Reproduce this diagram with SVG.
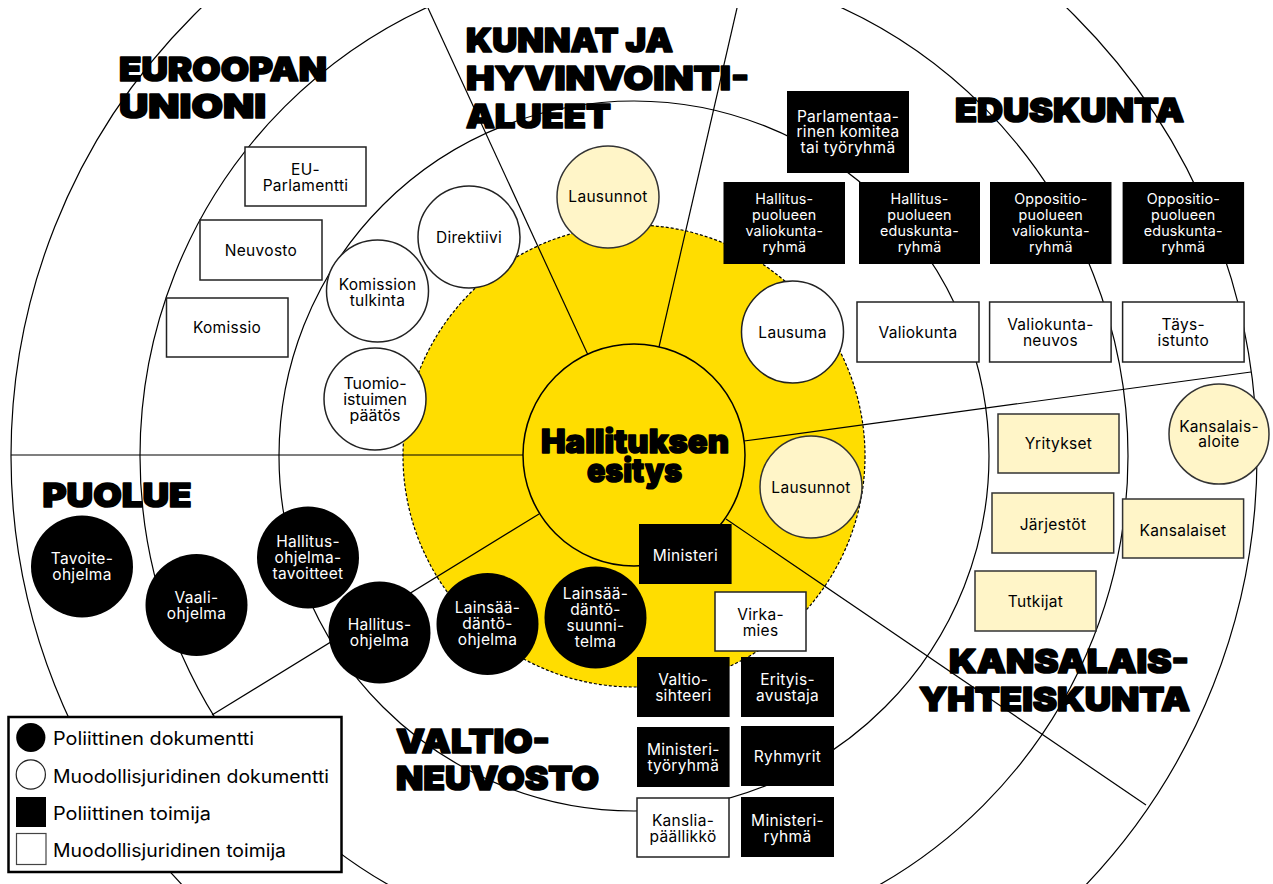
<svg xmlns="http://www.w3.org/2000/svg" width="1273" height="884" viewBox="0 0 1273 884">
<defs>
<clipPath id="clip"><rect x="0" y="8" width="1273" height="876"/></clipPath>
<style>
.ring{fill:none;stroke:#000;stroke-width:1.2}
.ray{stroke:#000;stroke-width:1.2;fill:none}
.title{font-family:Inter,"Roboto","DejaVu Sans",sans-serif;font-weight:900;font-size:33px;fill:#000;stroke:#000;stroke-width:1.6;stroke-linejoin:round}
.t{font-family:Inter,"Roboto","Liberation Sans",sans-serif;font-size:15.5px;letter-spacing:0.3px;text-anchor:middle}
.s{font-size:14.3px;letter-spacing:0.2px}
.m{font-size:16px;letter-spacing:0}
.dark{fill:#000}
.darkt{fill:#fff}
.wbox{fill:#fff;stroke:#222;stroke-width:1.5}
.ybox{fill:#FFF5C8;stroke:#333;stroke-width:1.5}
.lg{font-family:Inter,"Roboto","Liberation Sans",sans-serif;font-size:18px;fill:#000}
</style>
</defs>
<rect x="0" y="0" width="1273" height="884" fill="#fff"/>
<g id="rings" clip-path="url(#clip)">
<circle class="ring" cx="634" cy="456" r="355"/>
<circle class="ring" cx="634" cy="456" r="494"/>
<circle class="ring" cx="634" cy="456" r="623"/>
<circle cx="634" cy="456" r="231" fill="#FFDD00" stroke="#000" stroke-width="1.2" stroke-dasharray="3 2"/>
</g>
<g id="connectors" clip-path="url(#clip)">
<line class="ray" x1="588" y1="355" x2="428" y2="8"/>
<line class="ray" x1="659" y1="347" x2="740" y2="-5"/>
<line class="ray" x1="744" y1="441" x2="1251" y2="372"/>
<line class="ray" x1="726" y1="519" x2="1146" y2="805"/>
<line class="ray" x1="539" y1="514" x2="212" y2="715"/>
<line class="ray" x1="523" y1="455" x2="11" y2="455"/>
</g>
<g id="center">
<circle cx="634" cy="455" r="111" fill="#FFDD00" stroke="#000" stroke-width="1.5"/>
<text class="title" x="541" y="452.5" font-size="30" stroke-width="1.4" textLength="188" lengthAdjust="spacingAndGlyphs">Hallituksen</text>
<text class="title" x="587" y="482" font-size="30" stroke-width="1.4" textLength="95" lengthAdjust="spacingAndGlyphs">esitys</text>
</g>
<g id="titles">
<text class="title" x="119" y="81" textLength="208" lengthAdjust="spacingAndGlyphs">EUROOPAN</text>
<text class="title" x="119" y="118" textLength="147" lengthAdjust="spacingAndGlyphs">UNIONI</text>
<text class="title" x="466" y="52" textLength="207" lengthAdjust="spacingAndGlyphs">KUNNAT JA</text>
<text class="title" x="466" y="90" textLength="283" lengthAdjust="spacingAndGlyphs">HYVINVOINTI-</text>
<text class="title" x="466" y="128" textLength="145" lengthAdjust="spacingAndGlyphs">ALUEET</text>
<text class="title" x="955" y="121.5" textLength="229" lengthAdjust="spacingAndGlyphs">EDUSKUNTA</text>
<text class="title" x="42.5" y="507" textLength="149" lengthAdjust="spacingAndGlyphs">PUOLUE</text>
<text class="title" x="396" y="753" textLength="154" lengthAdjust="spacingAndGlyphs">VALTIO-</text>
<text class="title" x="396" y="790" textLength="203" lengthAdjust="spacingAndGlyphs">NEUVOSTO</text>
<text class="title" x="949" y="673" textLength="240" lengthAdjust="spacingAndGlyphs">KANSALAIS-</text>
<text class="title" x="919" y="711" textLength="271" lengthAdjust="spacingAndGlyphs">YHTEISKUNTA</text>
</g>
<g id="n-euparl"><rect class="wbox" x="245" y="147" width="121" height="59"/><text class="t"><tspan x="305.5" y="175">EU-</tspan><tspan x="305.5" y="190.7">Parlamentti</tspan></text></g>
<g id="n-neuvosto"><rect class="wbox" x="200" y="220" width="122" height="60"/><text class="t" x="261" y="256">Neuvosto</text></g>
<g id="n-komissio"><rect class="wbox" x="166.5" y="298" width="121.5" height="59"/><text class="t" x="227" y="333">Komissio</text></g>
<g id="n-direktiivi"><circle cx="469" cy="237" r="51" class="wbox"/><text class="t" x="469" y="243">Direktiivi</text></g>
<g id="n-komtulk"><circle cx="377.5" cy="291" r="51" class="wbox"/><text class="t"><tspan x="377.5" y="290">Komission</tspan><tspan x="377.5" y="305.5">tulkinta</tspan></text></g>
<g id="n-tuomio"><circle cx="375" cy="399" r="51" class="wbox"/><text class="t m"><tspan x="375" y="389">Tuomio-</tspan><tspan x="375" y="405">istuimen</tspan><tspan x="375" y="421">päätös</tspan></text></g>
<g id="n-lausunnot1"><circle cx="608" cy="197" r="51" class="ybox"/><text class="t" x="608" y="202">Lausunnot</text></g>
<g id="n-parlkom"><rect class="dark" x="787" y="91" width="122" height="82"/><text class="t darkt"><tspan x="848" y="121.7">Parlamentaa-</tspan><tspan x="848" y="137.4">rinen komitea</tspan><tspan x="848" y="153.2">tai työryhmä</tspan></text></g>
<g id="n-hpv"><rect class="dark" x="723.5" y="182" width="121.5" height="82"/><text class="t s darkt"><tspan x="784.3" y="204">Hallitus-</tspan><tspan x="784.3" y="220">puolueen</tspan><tspan x="784.3" y="236">valiokunta-</tspan><tspan x="784.3" y="251.7">ryhmä</tspan></text></g>
<g id="n-hpe"><rect class="dark" x="859" y="182" width="121" height="82"/><text class="t s darkt"><tspan x="919.5" y="204">Hallitus-</tspan><tspan x="919.5" y="220">puolueen</tspan><tspan x="919.5" y="236">eduskunta-</tspan><tspan x="919.5" y="251.7">ryhmä</tspan></text></g>
<g id="n-opv"><rect class="dark" x="990" y="182" width="121.5" height="82"/><text class="t s darkt"><tspan x="1050.8" y="204">Oppositio-</tspan><tspan x="1050.8" y="220">puolueen</tspan><tspan x="1050.8" y="236">valiokunta-</tspan><tspan x="1050.8" y="251.7">ryhmä</tspan></text></g>
<g id="n-ope"><rect class="dark" x="1122.6" y="182" width="121.5" height="82"/><text class="t s darkt"><tspan x="1183.3" y="204">Oppositio-</tspan><tspan x="1183.3" y="220">puolueen</tspan><tspan x="1183.3" y="236">eduskunta-</tspan><tspan x="1183.3" y="251.7">ryhmä</tspan></text></g>
<g id="n-lausuma"><circle cx="792.5" cy="332" r="51" class="wbox"/><text class="t" x="792.5" y="338.3">Lausuma</text></g>
<g id="n-valiokunta"><rect class="wbox" x="857" y="302" width="122" height="60"/><text class="t" x="918" y="338">Valiokunta</text></g>
<g id="n-vneuvos"><rect class="wbox" x="989.6" y="302" width="121.5" height="60"/><text class="t"><tspan x="1050.4" y="330">Valiokunta-</tspan><tspan x="1050.4" y="346">neuvos</tspan></text></g>
<g id="n-taysistunto"><rect class="wbox" x="1122.6" y="302" width="121.5" height="60"/><text class="t"><tspan x="1183.3" y="330">Täys-</tspan><tspan x="1183.3" y="346">istunto</tspan></text></g>
<g id="n-kansalaisaloite"><circle cx="1219" cy="434" r="50" class="ybox"/><text class="t"><tspan x="1219" y="431.7">Kansalais-</tspan><tspan x="1219" y="447.3">aloite</tspan></text></g>
<g id="n-yritykset"><rect class="ybox" x="998" y="414" width="121" height="59"/><text class="t" x="1058.5" y="449">Yritykset</text></g>
<g id="n-jarjestot"><rect class="ybox" x="992" y="493" width="121.7" height="60"/><text class="t" x="1053" y="530">Järjestöt</text></g>
<g id="n-kansalaiset"><rect class="ybox" x="1122.6" y="499" width="121" height="59"/><text class="t" x="1183" y="536">Kansalaiset</text></g>
<g id="n-tutkijat"><rect class="ybox" x="975" y="571" width="121" height="60"/><text class="t" x="1035.5" y="606.7">Tutkijat</text></g>
<g id="n-lausunnot2"><circle cx="811" cy="487" r="51" class="ybox"/><text class="t" x="811" y="493.3">Lausunnot</text></g>
<g id="n-ministeri"><rect class="dark" x="639" y="524" width="92.6" height="60"/><text class="t darkt" x="685.3" y="561">Ministeri</text></g>
<g id="n-virkamies"><rect class="wbox" x="715" y="592" width="91" height="59"/><text class="t"><tspan x="760.5" y="620">Virka-</tspan><tspan x="760.5" y="635.7">mies</tspan></text></g>
<g id="n-valtiosihteeri"><rect class="dark" x="637" y="657" width="92.6" height="60"/><text class="t darkt"><tspan x="683.3" y="685">Valtio-</tspan><tspan x="683.3" y="700.7">sihteeri</tspan></text></g>
<g id="n-erityisavustaja"><rect class="dark" x="741" y="657" width="93" height="60"/><text class="t darkt"><tspan x="787.5" y="685">Erityis-</tspan><tspan x="787.5" y="700.7">avustaja</tspan></text></g>
<g id="n-ministerityoryhma"><rect class="dark" x="637" y="727" width="92.6" height="60"/><text class="t darkt"><tspan x="683.3" y="755">Ministeri-</tspan><tspan x="683.3" y="770.7">työryhmä</tspan></text></g>
<g id="n-ryhmyrit"><rect class="dark" x="741" y="726" width="93" height="60"/><text class="t darkt" x="787.5" y="761.7">Ryhmyrit</text></g>
<g id="n-kansliapaallikko"><rect class="wbox" x="637" y="798" width="92" height="59"/><text class="t"><tspan x="683" y="825.7">Kanslia-</tspan><tspan x="683" y="841.7">päällikkö</tspan></text></g>
<g id="n-ministeriryhma"><rect class="dark" x="741" y="797" width="93" height="60"/><text class="t darkt"><tspan x="787.5" y="825.7">Ministeri-</tspan><tspan x="787.5" y="841.7">ryhmä</tspan></text></g>
<g id="n-tavoiteohjelma"><circle cx="82" cy="566.5" r="51" class="dark"/><text class="t darkt"><tspan x="82" y="564.3">Tavoite-</tspan><tspan x="82" y="580">ohjelma</tspan></text></g>
<g id="n-vaaliohjelma"><circle cx="196.5" cy="605" r="51" class="dark"/><text class="t darkt"><tspan x="196.5" y="603.3">Vaali-</tspan><tspan x="196.5" y="619">ohjelma</tspan></text></g>
<g id="n-hotavoitteet"><circle cx="308" cy="557.5" r="51" class="dark"/><text class="t darkt"><tspan x="308" y="547.3">Hallitus-</tspan><tspan x="308" y="563">ohjelma-</tspan><tspan x="308" y="578.7">tavoitteet</tspan></text></g>
<g id="n-hallitusohjelma"><circle cx="379.5" cy="632.5" r="51" class="dark"/><text class="t darkt"><tspan x="379.5" y="630">Hallitus-</tspan><tspan x="379.5" y="645.7">ohjelma</tspan></text></g>
<g id="n-lsohjelma"><circle cx="487.5" cy="624" r="51" class="dark"/><text class="t darkt"><tspan x="487.5" y="613.3">Lainsää-</tspan><tspan x="487.5" y="629">däntö-</tspan><tspan x="487.5" y="645">ohjelma</tspan></text></g>
<g id="n-lssuunnitelma"><circle cx="595.5" cy="617.5" r="51" class="dark"/><text class="t darkt"><tspan x="595.5" y="599.3">Lainsää-</tspan><tspan x="595.5" y="615">däntö-</tspan><tspan x="595.5" y="631">suunni-</tspan><tspan x="595.5" y="646.7">telma</tspan></text></g>
<g id="legend">
<rect x="8.5" y="717" width="333" height="155" fill="#fff" stroke="#000" stroke-width="2.5"/>
<circle cx="30.8" cy="737.5" r="14.6" fill="#000"/>
<circle cx="30.8" cy="774.5" r="14.6" fill="#fff" stroke="#222" stroke-width="1.2"/>
<rect x="16" y="797" width="30" height="30" fill="#000"/>
<rect x="16.5" y="833.5" width="29.5" height="31" fill="#fff" stroke="#444" stroke-width="1.2"/>
<text class="lg" x="53" y="745" textLength="201" lengthAdjust="spacingAndGlyphs">Poliittinen dokumentti</text>
<text class="lg" x="53" y="782.5" textLength="276" lengthAdjust="spacingAndGlyphs">Muodollisjuridinen dokumentti</text>
<text class="lg" x="53" y="820" textLength="158" lengthAdjust="spacingAndGlyphs">Poliittinen toimija</text>
<text class="lg" x="53" y="856.5" textLength="233" lengthAdjust="spacingAndGlyphs">Muodollisjuridinen toimija</text>
</g>
</svg>
